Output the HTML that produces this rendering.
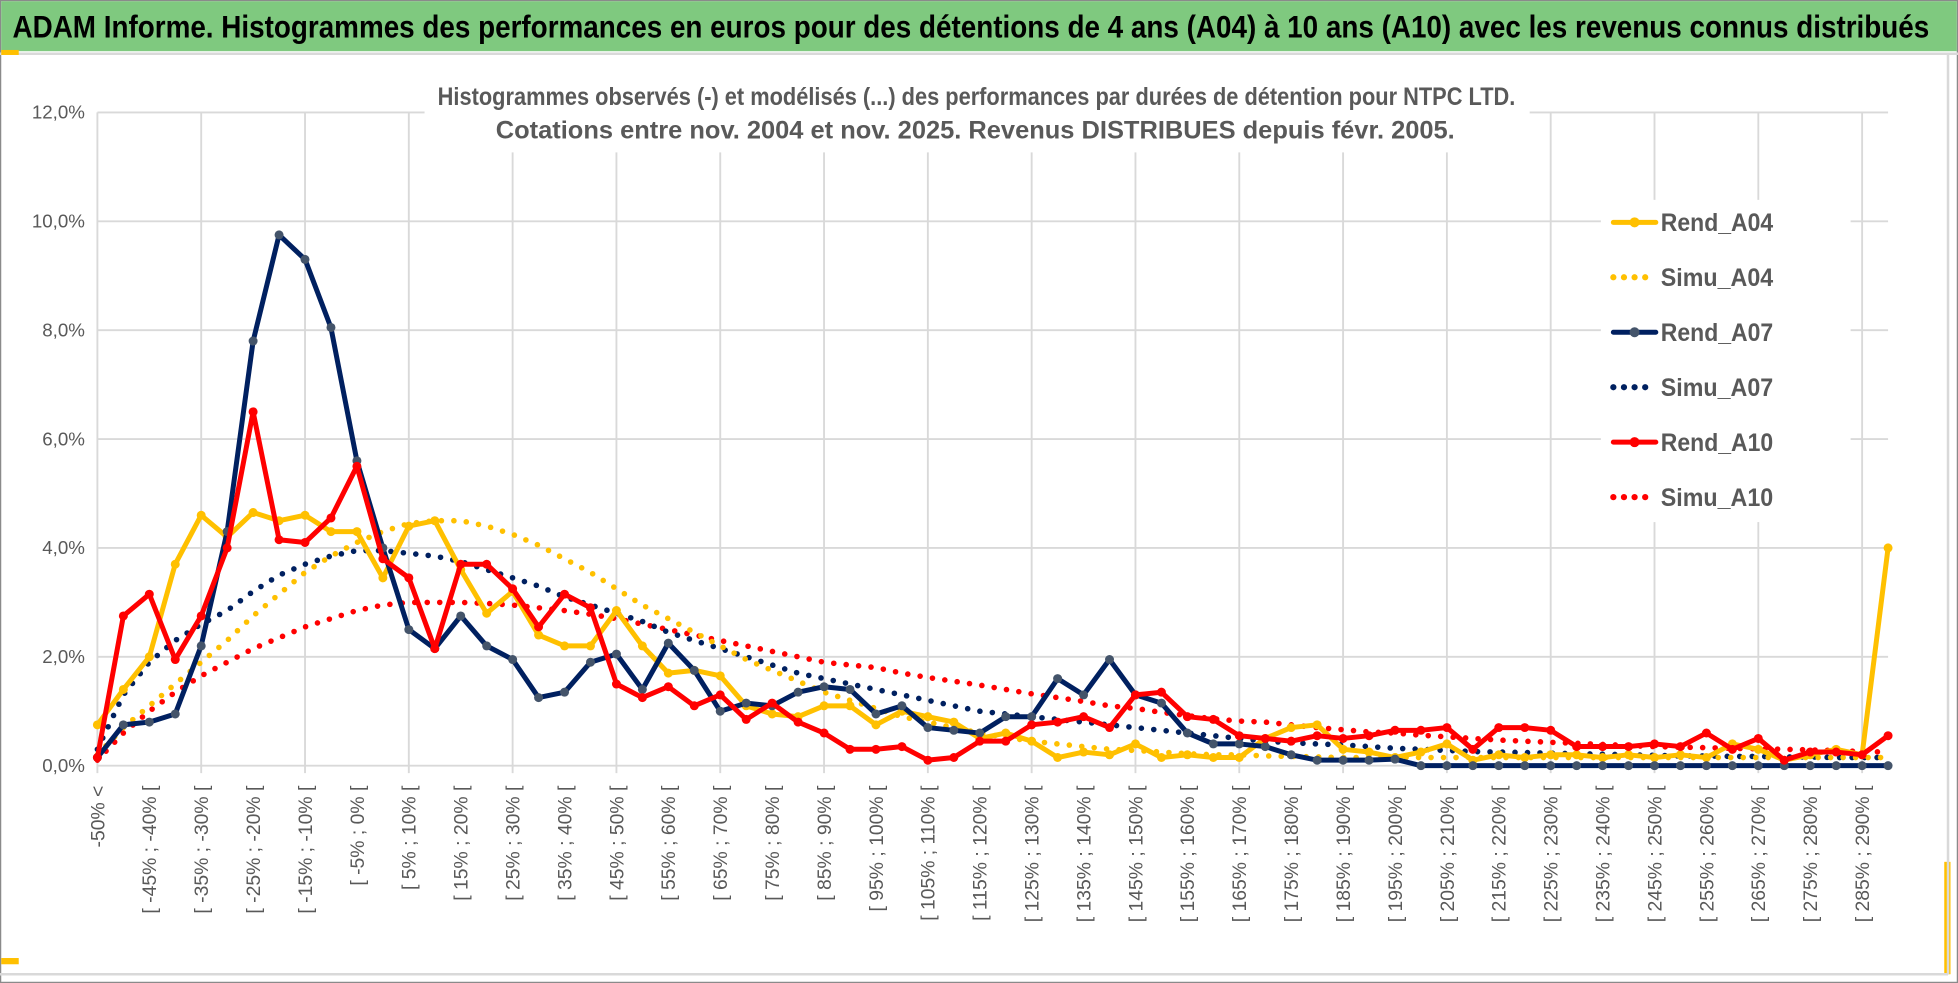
<!DOCTYPE html>
<html><head><meta charset="utf-8"><style>
html,body{margin:0;padding:0;background:#fff;}
svg{display:block;}
text{font-family:"Liberation Sans Narrow","Liberation Sans",sans-serif;}
</style></head><body>
<svg id="chart" width="1958" height="983" viewBox="0 0 1568 787" preserveAspectRatio="none" xmlns="http://www.w3.org/2000/svg">
<rect x="0" y="0" width="1568" height="787" fill="#fff" stroke="#8a8a8a" stroke-width="2"/>
<rect x="1" y="1" width="1566" height="40" fill="#7fc97f"/>
<line x1="0" y1="43" x2="1568" y2="43" stroke="#d9d9d9" stroke-width="2"/>
<rect x="1" y="40" width="14" height="4" fill="#ffc000"/>
<rect x="1" y="767" width="14" height="5" fill="#ffc000"/>
<rect x="1557" y="690" width="5" height="90" fill="#ffc000"/>
<text x="10" y="30" font-size="25" font-weight="bold" fill="#000" textLength="1535" lengthAdjust="spacingAndGlyphs">ADAM Informe. Histogrammes des performances en euros pour des détentions de 4 ans (A04) à 10 ans (A10) avec les revenus connus distribués</text>
<line x1="1560" y1="44" x2="1560" y2="780" stroke="#d9d9d9" stroke-width="2"/>
<line x1="0" y1="780" x2="1560" y2="780" stroke="#d9d9d9" stroke-width="2"/>
<g id="grid"></g>
<g id="yaxis"></g>
<g id="xaxis"></g>
<rect x="340" y="60" width="885" height="62" fill="#fff"/>
<text x="782" y="84" text-anchor="middle" font-size="20" font-weight="bold" fill="#595959" textLength="863" lengthAdjust="spacingAndGlyphs">Histogrammes observés (-) et modélisés (...) des performances par durées de détention pour NTPC LTD.</text>
<text x="781" y="111" text-anchor="middle" font-size="20" font-weight="bold" fill="#595959" textLength="768" lengthAdjust="spacingAndGlyphs">Cotations entre nov. 2004 et nov. 2025. Revenus DISTRIBUES depuis févr. 2005.</text>
<g id="series"></g>
<g id="legend"></g>
</svg>
<script>
const categories = (function(){const a=["-50% <"];for(let k=1;k<70;k++){a.push("[ "+(-55+5*k)+"% ; "+(-50+5*k)+"% [");}return a;})();
const yTicks = [0,2,4,6,8,10,12];
const yTickLabels = ["0,0%","2,0%","4,0%","6,0%","8,0%","10,0%","12,0%"];
const rendA04 = [0.75,1.4,2.0,3.7,4.6,4.2,4.65,4.5,4.6,4.3,4.3,3.45,4.4,4.5,3.6,2.8,3.2,2.4,2.2,2.2,2.85,2.2,1.7,1.75,1.65,1.1,0.95,0.9,1.1,1.1,0.75,1.0,0.9,0.8,0.5,0.6,0.45,0.15,0.25,0.2,0.4,0.15,0.2,0.15,0.15,0.5,0.7,0.75,0.3,0.25,0.15,0.25,0.4,0.1,0.2,0.15,0.2,0.2,0.15,0.2,0.15,0.2,0.15,0.4,0.3,0.1,0.2,0.3,0.2,4.0];
const simuA04 = [0.2,0.7,1.1,1.5,1.9,2.3,2.75,3.15,3.55,3.85,4.1,4.3,4.45,4.5,4.5,4.4,4.25,4.05,3.8,3.55,3.25,2.95,2.7,2.45,2.2,1.95,1.75,1.55,1.35,1.2,1.05,0.9,0.8,0.7,0.6,0.52,0.45,0.4,0.35,0.3,0.28,0.25,0.22,0.2,0.2,0.18,0.17,0.16,0.15,0.15,0.15,0.15,0.15,0.15,0.15,0.15,0.15,0.15,0.15,0.15,0.15,0.15,0.15,0.15,0.15,0.15,0.15,0.15,0.15,0.15];
const rendA07 = [0.15,0.75,0.8,0.95,2.2,4.3,7.8,9.75,9.3,8.05,5.6,4.0,2.5,2.15,2.75,2.2,1.95,1.25,1.35,1.9,2.05,1.4,2.25,1.75,1.0,1.15,1.1,1.35,1.45,1.4,0.95,1.1,0.7,0.65,0.6,0.9,0.9,1.6,1.3,1.95,1.3,1.15,0.6,0.4,0.4,0.35,0.2,0.1,0.1,0.1,0.12,0,0,0,0,0,0,0,0,0,0,0,0,0,0,0,0,0,0,0];
const simuA07 = [0.3,1.3,1.9,2.3,2.6,2.85,3.2,3.5,3.7,3.85,3.95,3.95,3.9,3.85,3.75,3.6,3.45,3.3,3.1,2.95,2.8,2.65,2.45,2.3,2.15,2.0,1.85,1.7,1.6,1.5,1.4,1.3,1.2,1.1,1.0,0.95,0.9,0.85,0.8,0.75,0.7,0.65,0.6,0.55,0.5,0.45,0.42,0.4,0.38,0.35,0.32,0.3,0.28,0.26,0.25,0.24,0.23,0.22,0.21,0.2,0.19,0.18,0.18,0.17,0.17,0.16,0.16,0.15,0.15,0.15];
const rendA10 = [0.15,2.75,3.15,1.95,2.75,4.0,6.5,4.15,4.1,4.55,5.5,3.8,3.45,2.15,3.7,3.7,3.25,2.55,3.15,2.9,1.5,1.25,1.45,1.1,1.3,0.85,1.15,0.8,0.6,0.3,0.3,0.35,0.1,0.15,0.45,0.45,0.75,0.8,0.9,0.7,1.3,1.35,0.9,0.85,0.55,0.5,0.45,0.55,0.5,0.55,0.65,0.65,0.7,0.3,0.7,0.7,0.65,0.35,0.35,0.35,0.4,0.35,0.6,0.3,0.5,0.1,0.25,0.25,0.2,0.55];
const simuA10 = [0.1,0.6,1.0,1.35,1.65,1.9,2.15,2.35,2.55,2.7,2.85,2.95,3.0,3.0,3.0,2.98,2.95,2.9,2.85,2.78,2.7,2.6,2.5,2.4,2.3,2.2,2.1,2.0,1.9,1.85,1.8,1.7,1.62,1.55,1.48,1.4,1.32,1.25,1.18,1.1,1.05,0.98,0.92,0.86,0.82,0.8,0.75,0.7,0.66,0.62,0.6,0.56,0.53,0.5,0.47,0.45,0.43,0.41,0.39,0.37,0.35,0.34,0.33,0.32,0.31,0.3,0.29,0.28,0.26,0.25];

const NS="http://www.w3.org/2000/svg";
const X0=78,X1=1512,Y0=613,Y12=90;
function xS(i){return X0+(X1-X0)*i/(categories.length-1);}
function yS(v){return Y0-(Y0-Y12)*v/12;}
function mk(tag,attrs,parent){const e=document.createElementNS(NS,tag);for(const k in attrs)e.setAttribute(k,attrs[k]);parent.appendChild(e);return e;}

const grid=document.getElementById('grid');
yTicks.forEach((t,i)=>{
  const l=mk('line',{x1:X0,x2:X1,y1:yS(t),y2:yS(t),stroke:'#d9d9d9','stroke-width':1.5},grid);
  
  
  const tx=mk('text',{x:68,y:yS(t)+5,'text-anchor':'end','font-size':15,fill:'#595959'},document.getElementById('yaxis'));
  tx.textContent=yTickLabels[i];
  
  
});
for(let i=0;i<categories.length;i+=4){
  const l=mk('line',{x1:xS(i),x2:xS(i),y1:Y12,y2:Y0+6,stroke:'#d9d9d9','stroke-width':1.5},grid);
  
  
}
const xa=document.getElementById('xaxis');
for(let i=0;i<categories.length;i+=2){
  const x=xS(i)+5.5,y=629;
  const t=mk('text',{x:x,y:y,'text-anchor':'end','font-size':15.5,fill:'#595959',transform:'rotate(-90 '+x+' '+y+')'},xa);
  t.textContent=categories[i];
  
  
}
const sg=document.getElementById('series');
function line(vals,color,name,dotted,marker){
  const pts=vals.map((v,i)=>xS(i).toFixed(1)+','+yS(v).toFixed(1)).join(' ');
  const p=mk('polyline',{points:pts,fill:'none',stroke:color,'stroke-width':dotted?4.5:4,'stroke-linejoin':'round','stroke-linecap':'round'},sg);
  if(dotted)p.setAttribute('stroke-dasharray','0 10');
  
  
  if(marker){vals.forEach((v,i)=>{
    const c=mk('circle',{cx:xS(i),cy:yS(v),r:3.6,fill:marker},sg);
    
    
  });}
}
line(simuA10,'#ff0000','simu-a10',true,null);
line(simuA07,'#002060','simu-a07',true,null);
line(simuA04,'#ffc000','simu-a04',true,null);
line(rendA04,'#ffc000','rend-a04',false,'#ffc000');
line(rendA07,'#002060','rend-a07',false,'#44546a');
line(rendA10,'#ff0000','rend-a10',false,'#ff0000');

const lg=document.getElementById('legend');
mk('rect',{x:1282,y:160,width:200,height:258,fill:'#fff'},lg);
const legItems=[["Rend_A04","#ffc000",false,"#ffc000"],["Simu_A04","#ffc000",true,null],["Rend_A07","#002060",false,"#44546a"],["Simu_A07","#002060",true,null],["Rend_A10","#ff0000",false,"#ff0000"],["Simu_A10","#ff0000",true,null]];
legItems.forEach((it,i)=>{
  const y=178+i*44;
  const g=mk('g',{},lg);
  
  
  const l=mk('line',{x1:1292,x2:1326,y1:y,y2:y,stroke:it[1],'stroke-width':it[2]?5:4,'stroke-linecap':'round'},g);
  if(it[2])l.setAttribute('stroke-dasharray','0 8.5');
  if(it[3])mk('circle',{cx:1309,cy:y,r:4,fill:it[3]},g);
  const t=mk('text',{x:1330,y:y+7,'font-size':20,'font-weight':'bold',fill:'#595959',textLength:'90',lengthAdjust:'spacingAndGlyphs'},g);
  t.textContent=it[0];
});
</script>
</body></html>
